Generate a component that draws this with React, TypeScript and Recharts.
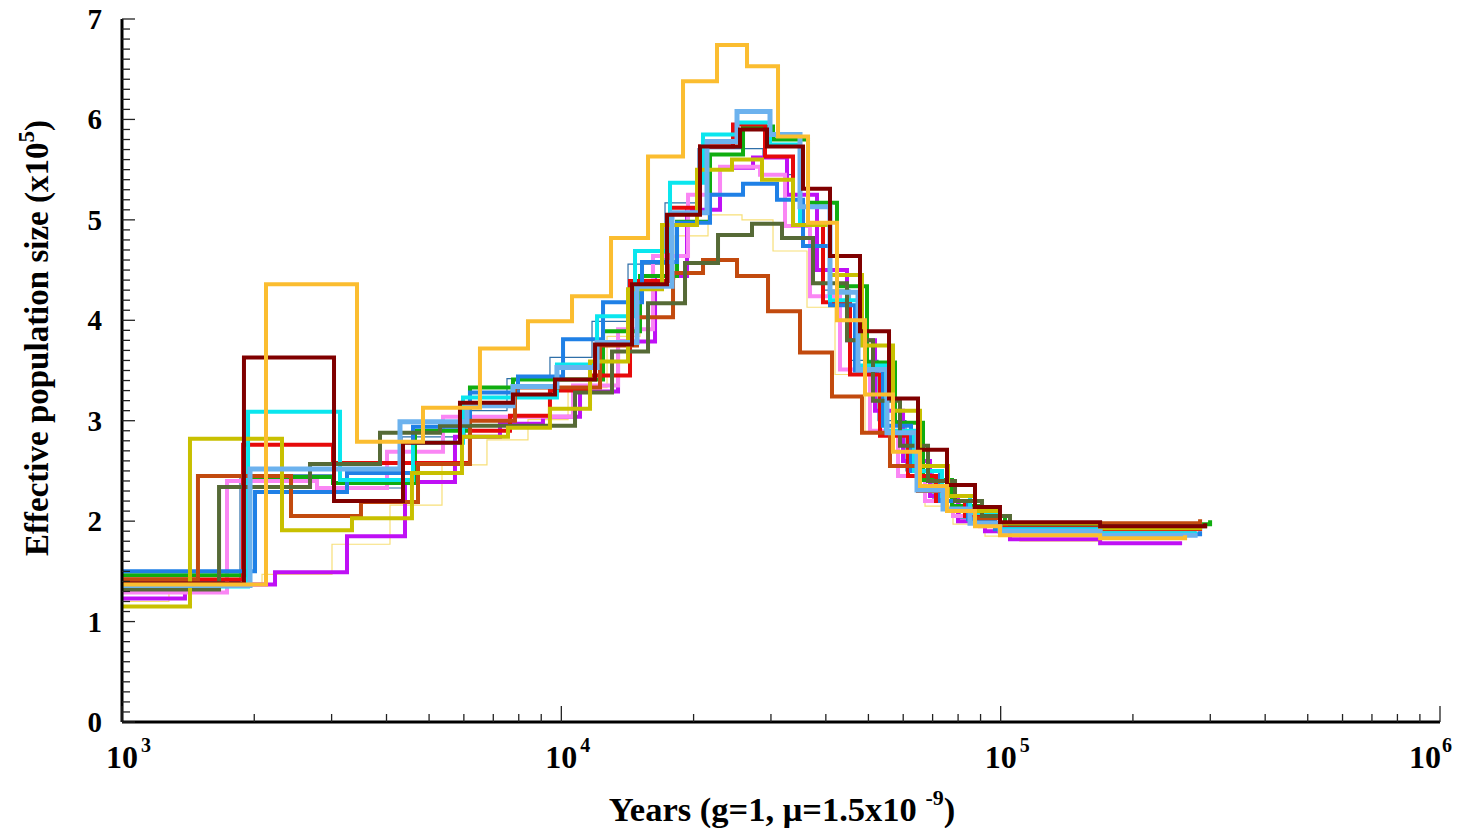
import React from 'react';
import { LineChart, Line, XAxis, YAxis } from 'recharts';

// each series: [years, Ne (x10^5)] — value holds until the next step
type Step = [number, number];

const gold: Step[] = [
    [1000, 1.37], [2127, 4.36], [3427, 2.79], [4843, 3.13], [6528, 3.72], [8396, 3.99], [10576, 4.24],
    [12975, 4.82], [15752, 5.63], [18923, 6.38], [22613, 6.74], [26463, 6.53], [31133, 5.83], [36434, 4.97],
    [42411, 4.0], [49116, 3.26], [56878, 2.69], [65521, 2.35], [75482, 2.1], [87414, 1.95], [99646, 1.86],
    [168400, 1.83], [262900, 1.86],
];

const darkRed: Step[] = [
    [1000, 1.38], [1895, 3.63], [3038, 2.2], [4361, 2.78], [5879, 3.18], [7761, 3.26], [9672, 3.41],
    [11932, 3.76], [14484, 4.36], [17400, 5.05], [20685, 5.73], [25509, 5.9], [29387, 5.73], [35490, 5.31],
    [40882, 4.64], [47843, 3.89], [55702, 3.22], [64843, 2.71], [75482, 2.36], [87414, 2.14], [99646, 1.99],
    [168400, 1.95], [292000, 1.98],
];

const cyan: Step[] = [
    [1000, 1.35], [1936, 3.09], [3135, 2.41], [4596, 2.78], [5972, 3.23], [9773, 3.56], [12058, 4.04],
    [14714, 4.69], [17676, 5.37], [21014, 5.85], [25112, 5.97], [29852, 5.75], [34935, 4.95], [40882, 4.2],
    [47348, 3.55], [54830, 2.9], [63493, 2.5], [73525, 2.25], [85149, 2.08], [99646, 1.92], [168400, 1.88],
    [277100, 1.9],
];

const oliveYellow: Step[] = [
    [1000, 1.15], [1428, 2.82], [2313, 1.91], [3338, 2.03], [4571, 2.48], [5941, 2.84], [7561, 2.93],
    [9421, 3.12], [11623, 3.59], [14184, 4.31], [16949, 4.95], [20363, 5.5], [24461, 5.6], [28625, 5.4],
    [33678, 4.95], [40882, 4.45], [48345, 3.75], [56878, 3.1], [65521, 2.55], [75882, 2.25], [87414, 2.1],
    [99646, 1.98], [168400, 1.93], [284400, 1.95],
];

const red: Step[] = [
    [1000, 1.42], [1886, 2.76], [3022, 2.58], [6195, 2.9], [7640, 3.05], [9421, 3.3], [11623, 3.45],
    [14333, 4.39], [17676, 5.12], [20685, 5.73], [24592, 5.95], [29081, 5.63], [33678, 4.95], [39412, 4.18],
    [45400, 3.46], [53130, 2.85], [61532, 2.45], [71255, 2.2], [82950, 2.05], [97073, 1.95], [168400, 1.92],
    [284400, 1.94],
];

const blue: Step[] = [
    [1000, 1.5], [2008, 2.29], [3252, 2.48], [4596, 2.94], [6195, 3.28], [7968, 3.44], [10090, 3.81],
    [12443, 4.18], [15263, 4.58], [18337, 4.97], [21798, 5.25], [25915, 5.36], [30968, 5.2], [35490, 4.74],
    [40882, 4.15], [46608, 3.5], [53975, 2.95], [62505, 2.5], [72761, 2.2], [84267, 2.02], [97073, 1.92],
    [168400, 1.87], [284400, 1.9],
];

const brown: Step[] = [
    [1000, 1.42], [1489, 2.45], [2425, 2.05], [3499, 2.19], [4718, 2.57], [6195, 3.0], [7843, 3.33],
    [12248, 3.75], [14869, 4.03], [17957, 4.47], [21014, 4.6], [25112, 4.44], [29543, 4.09], [34935, 3.68],
    [41311, 3.24], [48345, 2.88], [55988, 2.55], [64843, 2.3], [75089, 2.12], [87414, 2.03], [99646, 1.97],
    [168400, 1.98], [284400, 2.02],
];

const darkOlive: Step[] = [
    [1000, 1.32], [1663, 2.34], [2679, 2.57], [3866, 2.88], [5294, 2.95], [10744, 3.28], [13043, 3.69],
    [15752, 4.17], [19122, 4.57], [22733, 4.85], [27164, 4.96], [31789, 4.82], [37399, 4.37], [44693, 3.8],
    [51219, 3.2], [59001, 2.75], [68332, 2.4], [78716, 2.2], [90672, 2.05], [105007, 1.97], [168400, 1.95],
    [292000, 1.97],
];

const violet: Step[] = [
    [1000, 1.29], [1734, 2.4], [2779, 2.33], [4011, 2.69], [5378, 3.04], [10632, 3.35], [13461, 3.91],
    [16170, 4.64], [19426, 5.25], [22971, 5.53], [28328, 5.45], [32295, 4.94], [36814, 4.24], [43082, 3.51],
    [50417, 2.9], [58390, 2.45], [67264, 2.2], [77895, 2.05], [89730, 1.95], [105007, 1.9], [168400, 1.87],
    [269900, 1.88],
];

const purple: Step[] = [
    [1000, 1.23], [1391, 1.37], [2230, 1.49], [3252, 1.85], [4407, 2.39], [5727, 2.84], [7250, 2.97],
    [9082, 3.04], [11029, 3.29], [13461, 3.79], [16341, 4.44], [19324, 5.1], [22971, 5.52], [27310, 5.62],
    [32634, 5.25], [38191, 4.5], [44693, 3.8], [51758, 3.1], [59939, 2.6], [69046, 2.25], [79966, 2.0],
    [92117, 1.9], [105007, 1.82], [168400, 1.78], [256100, 1.8],
];

const green: Step[] = [
    [1000, 1.46], [1956, 2.44], [3022, 2.38], [4644, 2.9], [6195, 3.33], [7761, 3.41], [12443, 3.89],
    [15104, 4.44], [18337, 4.98], [21798, 5.65], [25915, 5.93], [30327, 5.8], [36434, 5.17], [42411, 4.34],
    [49632, 3.58], [57477, 2.98], [66563, 2.41], [77481, 2.15], [89730, 2.05], [102297, 1.98], [168400, 1.97],
    [299700, 2.01],
];

const lightBlue: Step[] = [
    [1000, 1.36], [1956, 2.52], [4293, 2.99], [6099, 3.15], [7761, 3.34], [9773, 3.53], [12058, 3.78],
    [14869, 4.34], [17862, 5.07], [21458, 5.78], [25112, 6.08], [29852, 5.85], [34935, 5.13], [40882, 4.28],
    [47348, 3.51], [55117, 2.88], [64500, 2.31], [73918, 2.12], [85149, 1.98], [99646, 1.9], [168400, 1.86],
    [277100, 1.88],
];

const thinYellow: Step[] = [
    [1000, 1.2], [1279, 1.38], [2083, 1.47], [3006, 1.77], [4074, 2.16], [5350, 2.56], [6772, 2.81],
    [8396, 3.01], [10358, 3.33], [12706, 3.84], [15104, 4.41], [18146, 4.84], [21572, 5.05], [25777, 5.0],
    [30327, 4.69], [36241, 4.13], [41970, 3.46], [49116, 2.88], [58082, 2.44], [67264, 2.15], [77895, 1.97],
    [92117, 1.85], [110657, 1.8], [168400, 1.77], [256100, 1.8],
];

const thinBlue: Step[] = [
    [1000, 1.4], [1856, 2.46], [3022, 2.33], [4338, 2.84], [6035, 3.1], [7521, 3.42], [9421, 3.63],
    [11745, 3.99], [14184, 4.56], [17219, 5.17], [20471, 5.71], [28778, 5.45], [33678, 4.94], [39412, 4.3],
    [45400, 3.6], [52580, 3.0], [60889, 2.5], [70144, 2.2], [80801, 2.03], [94558, 1.94], [168400, 1.89],
    [277100, 1.91],
];

const xTicks = [
    1000, 2000, 3000, 4000, 5000, 6000, 7000, 8000, 9000,
    10000, 20000, 30000, 40000, 50000, 60000, 70000, 80000, 90000,
    100000, 200000, 300000, 400000, 500000, 600000, 700000, 800000, 900000, 1000000,
];
const yTicks = Array.from({ length: 71 }, (_, i) => i / 10);

// drawn bottom to top
const series = [
    { name: 'thinYellow', data: thinYellow, color: '#f7df78', width: 1.2 },
    { name: 'thinBlue', data: thinBlue, color: '#2f6fa8', width: 1.2 },
    { name: 'purple', data: purple, color: '#bf10f5', width: 4 },
    { name: 'violet', data: violet, color: '#fa86f4', width: 4 },
    { name: 'green', data: green, color: '#10ad10', width: 4 },
    { name: 'red', data: red, color: '#e60a0a', width: 4 },
    { name: 'blue', data: blue, color: '#1f80e6', width: 4 },
    { name: 'cyan', data: cyan, color: '#0ae6ee', width: 4 },
    { name: 'brown', data: brown, color: '#c24a0e', width: 4 },
    { name: 'darkOlive', data: darkOlive, color: '#566a36', width: 4 },
    { name: 'oliveYellow', data: oliveYellow, color: '#c8c000', width: 4 },
    { name: 'lightBlue', data: lightBlue, color: '#6cb2ee', width: 5 },
    { name: 'darkRed', data: darkRed, color: '#800000', width: 4 },
    { name: 'gold', data: gold, color: '#fbbd30', width: 4 },
];

const FONT = '"Liberation Serif", "Times New Roman", serif';

const isMajorX = (v: number) => {
    const e = Math.round(Math.log10(v));
    return Math.abs(v - Math.pow(10, e)) < 1e-6 * v;
};

const BottomTick = (props: any) => {
    const { x, y, payload } = props;
    const v = payload.value;
    const major = isMajorX(v);
    const exp = Math.round(Math.log10(v));
    // last label is pulled in so it stays on the page
    const lx = exp === 6 ? x - 15 : x;
    const ex = exp === 6 ? lx + 17 : lx + 19;
    return (
        <g>
            <line x1={x} y1={y} x2={x} y2={y - (major ? 16 : 8)} stroke="#222" strokeWidth={1.3} />
            {major && (
                <g fontFamily={FONT} fontWeight="bold" fill="#000">
                    <text x={lx} y={y + 46} textAnchor="middle" fontSize={32}>10</text>
                    <text x={ex} y={y + 30} textAnchor="start" fontSize={20}>{exp}</text>
                </g>
            )}
        </g>
    );
};

const TopTick = (props: any) => {
    const { x, y, payload } = props;
    const major = isMajorX(payload.value);
    return <line x1={x} y1={y} x2={x} y2={y + (major ? 14 : 8)} stroke="#222" strokeWidth={1.3} />;
};

const LeftTick = (props: any) => {
    const { x, y, payload } = props;
    const v = payload.value;
    const major = Math.abs(v - Math.round(v)) < 1e-6;
    return (
        <g>
            <line x1={x} y1={y} x2={x + (major ? 13 : 8)} y2={y} stroke="#222" strokeWidth={1.3} />
            {major && (
                <text x={x - 20} y={y + 10} textAnchor="end" fontSize={29} fontWeight="bold" fontFamily={FONT} fill="#000">
                    {Math.round(v)}
                </text>
            )}
        </g>
    );
};

const W = 1448;
const H = 824;
const TOP = 15;

const App: React.FC = () => {
    return (
        <div style={{ position: 'relative', width: W, height: H, marginTop: -4 }}>
            <LineChart width={W} height={H} margin={{ top: TOP, right: 16, left: 54, bottom: 46 }}>
                <XAxis
                    dataKey="t"
                    type="number"
                    scale="log"
                    domain={[1000, 1000000]}
                    allowDataOverflow
                    ticks={xTicks}
                    interval={0}
                    tickSize={0}
                    tickMargin={0}
                    tickLine={false}
                    height={60}
                    axisLine={{ stroke: '#000', strokeWidth: 3 }}
                    tick={<BottomTick />}
                />
                <XAxis
                    xAxisId="top"
                    orientation="top"
                    dataKey="t"
                    type="number"
                    scale="log"
                    domain={[1000, 1000000]}
                    allowDataOverflow
                    ticks={xTicks}
                    interval={0}
                    tickSize={0}
                    tickMargin={0}
                    tickLine={false}
                    height={0}
                    axisLine={{ stroke: '#000', strokeWidth: 3 }}
                    tick={<TopTick />}
                />
                <YAxis
                    type="number"
                    domain={[0, 7]}
                    ticks={yTicks}
                    interval={0}
                    tickSize={0}
                    tickMargin={0}
                    tickLine={false}
                    width={60}
                    axisLine={{ stroke: '#000', strokeWidth: 3 }}
                    tick={<LeftTick />}
                />
                <YAxis
                    yAxisId="right"
                    orientation="right"
                    type="number"
                    domain={[0, 7]}
                    width={0}
                    tick={false}
                    tickLine={false}
                    axisLine={{ stroke: '#000', strokeWidth: 3 }}
                />
                {series.map(s => (
                    <Line
                        key={s.name}
                        data={s.data.map(([t, ne]) => ({ t, ne }))}
                        dataKey="ne"
                        type="stepAfter"
                        stroke={s.color}
                        strokeWidth={s.width}
                        dot={false}
                        activeDot={false}
                        isAnimationActive={false}
                    />
                ))}
            </LineChart>
            <svg width={W} height={H} style={{ position: 'absolute', left: 0, top: 0, pointerEvents: 'none', overflow: 'visible' }}>
                <g fontFamily={FONT} fontWeight="bold" fill="#000">
                    <text x={774} y={817} textAnchor="middle" fontSize={34.5}>
                        Years (g=1, μ=1.5x10 <tspan dy={-16} fontSize={22}>-9</tspan><tspan dy={16}>)</tspan>
                    </text>
                    <text transform="translate(40,334) rotate(-90)" textAnchor="middle" fontSize={33}>
                        Effective population size (x10<tspan dy={-14} fontSize={23}>5</tspan><tspan dy={14}>)</tspan>
                    </text>
                </g>
            </svg>
        </div>
    );
};

export default App;
